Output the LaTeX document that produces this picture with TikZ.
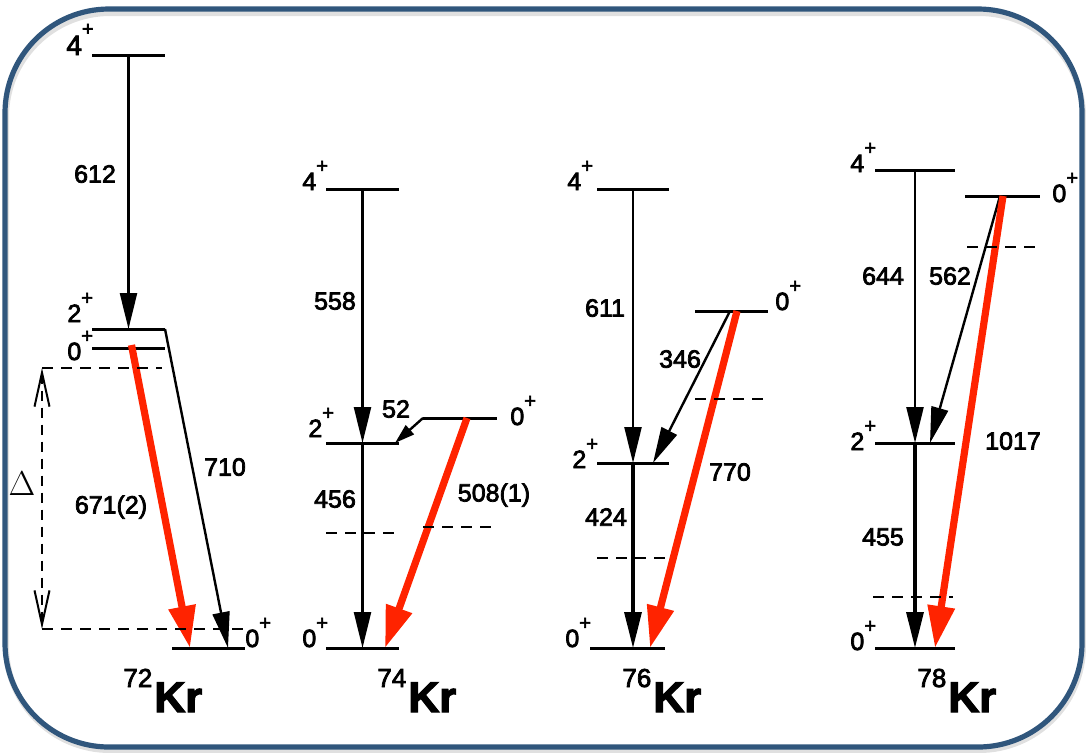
\documentclass[tikz,border=0pt]{standalone}
\usepackage{fontspec}
\setmainfont{Liberation Sans}
\newfontfamily\labfont{Liberation Sans}[FakeBold=3]
\usetikzlibrary{arrows.meta, calc}

\definecolor{frameblue}{RGB}{48,86,124}
\definecolor{krred}{RGB}{255,35,0}

\newcommand{\spin}[1]{#1\raisebox{0.7em}{\fontsize{10}{10}\selectfont +}}
\newcommand{\nuc}[1]{{\fontsize{13}{14}\selectfont\raisebox{12.5pt}{#1}}\kern1pt{\fontsize{21.5}{24}\selectfont\bfseries Kr}}

\begin{document}
\begin{tikzpicture}[
    x=0.5pt, y=-0.5pt,
    font=\labfont\fontsize{12.5}{14}\selectfont,
    frame/.style={draw=frameblue, line width=2.6pt, rounded corners=52pt},
    level/.style={line width=1.5pt},
    gam/.style={line width=1.2pt, -{Triangle[length=18pt, width=8.5pt]}},
    gamthick/.style={gam, line width=1.6pt},
    gamsmall/.style={line width=1.2pt, -{Triangle[length=10pt, width=6pt]}},
    gamred/.style={draw=krred, fill=krred, line width=3.6pt, -{Triangle[length=21pt, width=13pt]}},
    cut/.style={line width=1.3pt, dash pattern=on 5.5pt off 4pt},
    spinlab/.style={anchor=base west, inner sep=0pt},
    elab/.style={inner sep=0pt},
    nuclab/.style={anchor=base west, inner sep=0pt}
]
\useasboundingbox (0,0) rectangle (1086,752);

% FRAME
\draw[line width=3pt, black!12, rounded corners=52pt] (6,13) rectangle (1083,750);
\draw[frame] (5,9) rectangle (1082,747);

% ---------------- 72Kr ----------------
\draw[level] (92,55) -- (165,55) coordinate[pos=0.5] (k72-4);
\draw[level] (92,329) -- (165,329) coordinate[pos=0.5] (k72-2);
\draw[level] (92,348) -- (165,348) coordinate[pos=0.5] (k72-0x);
\draw[level] (172,648) -- (245,648) coordinate[pos=0.5] (k72-0);

\node[spinlab, font=\labfont\fontsize{14}{15}\selectfont] (s72-4) at (66,55) {\spin{4}};
\node[spinlab] (s72-2) at (67,322) {\spin{2}};
\node[spinlab] (s72-0x) at (67,360) {\spin{0}};
\node[spinlab] (s72-0) at (245,647) {\spin{0}};

\draw[gam] (k72-4) -- (k72-2);
\draw[gam] ($(k72-2)+(36.5,0)$) -- ($(k72-0)+(19.5,0)$);
\draw[gamred] ($(k72-0x)+(3,-3)$) -- ($(k72-0)+(-18.5,0)$);

\node[elab] (e612) at (95,174) {612};
\node[elab] (e710) at (225,467) {710};
\node[elab] (e671) at (111,507) {671(2)};

% gap Delta
\coordinate (dtop) at (42,368);
\coordinate (dbot) at (42,629);
\draw[cut] (dtop) -- (162,368);
\draw[cut] (dbot) -- (245,629);
\draw[line width=1pt, dash pattern=on 5pt off 3.5pt, {Straight Barb[length=17pt, width=7.5pt]}-{Straight Barb[length=17pt, width=7.5pt]}] (dtop) -- (dbot);
\node[elab, font=\fontsize{16}{16}\selectfont] (delta) at (22,484) {$\Delta$};

\node[nuclab] (n72) at (123,712) {\nuc{72}};

% ---------------- 74Kr ----------------
\draw[level] (326,189) -- (399,189) coordinate[pos=0.5] (k74-4);
\draw[level] (326,443) -- (399,443) coordinate[pos=0.5] (k74-2);
\draw[level] (423,418) -- (497,418) coordinate[pos=0.5] (k74-0x);
\draw[level] (326,648) -- (399,648) coordinate[pos=0.5] (k74-0);

\node[spinlab] (s74-4) at (302,190) {\spin{4}};
\node[spinlab] (s74-2) at (308,437) {\spin{2}};
\node[spinlab] (s74-0x) at (510,425) {\spin{0}};
\node[spinlab] (s74-0) at (302,647) {\spin{0}};

\draw[gam] (k74-4) -- (k74-2);
\draw[gam] (k74-2) -- (k74-0);
\draw[gamsmall] ($(k74-0x)+(-37,0)$) -- ($(k74-2)+(32.5,0)$);
\draw[gamred] ($(k74-0x)+(7,0)$) -- ($(k74-0)+(22.5,0)$);

\draw[cut] (326,533) -- (395,533);
\draw[cut] (423,527) -- (493,527);

\node[elab] (e558) at (335,301) {558};
\node[elab] (e52) at (396,409) {52};
\node[elab] (e456) at (335,499) {456};
\node[elab] (e508) at (494,495) {508(1)};

\node[nuclab] (n74) at (377,712) {\nuc{74}};

% ---------------- 76Kr ----------------
\draw[level] (597,189) -- (669,189) coordinate[pos=0.5] (k76-4);
\draw[level] (597,463) -- (669,463) coordinate[pos=0.5] (k76-2);
\draw[level] (695,311) -- (768,311) coordinate[pos=0.5] (k76-0x);
\draw[level] (590,648) -- (665,648) coordinate[pos=0.5] (k76-0);

\node[spinlab] (s76-4) at (567,190) {\spin{4}};
\node[spinlab] (s76-2) at (572,468) {\spin{2}};
\node[spinlab] (s76-0x) at (775,310) {\spin{0}};
\node[spinlab] (s76-0) at (565,647) {\spin{0}};

\draw[gam] (k76-4) -- (k76-2);
\draw[gamthick] (k76-2) -- (k76-2 |- k76-0);
\draw[gam] ($(k76-0x)+(-1.5,0)$) -- ($(k76-2)+(20,0)$);
\draw[gamred] ($(k76-0x)+(5.5,0)$) -- ($(k76-2 |- k76-0)+(17,0)$);

\draw[cut] (695,399) -- (763,399);
\draw[cut] (597,558) -- (665,558);

\node[elab] (e611) at (605,308) {611};
\node[elab] (e346) at (680,359) {346};
\node[elab] (e770) at (730,472) {770};
\node[elab] (e424) at (606,517) {424};

\node[nuclab] (n76) at (622,712) {\nuc{76}};

% ---------------- 78Kr ----------------
\draw[level] (875,170) -- (955,170) coordinate[pos=0.5] (k78-4);
\draw[level] (875,443) -- (955,443) coordinate[pos=0.5] (k78-2);
\draw[level] (965,196) -- (1040,196) coordinate[pos=0.5] (k78-0x);
\draw[level] (875,648) -- (955,648) coordinate[pos=0.5] (k78-0);

\node[spinlab] (s78-4) at (850,172) {\spin{4}};
\node[spinlab] (s78-2) at (850,450) {\spin{2}};
\node[spinlab] (s78-0x) at (1052,202) {\spin{0}};
\node[spinlab] (s78-0) at (850,650) {\spin{0}};

\draw[gam] (k78-4) -- (k78-2);
\draw[gamthick] (k78-2) -- (k78-0);
\draw[gam] ($(k78-0x)+(-2.5,0)$) -- ($(k78-2)+(15,0)$);
\draw[gamred] ($(k78-0x)+(0.5,0)$) -- ($(k78-0)+(20,0)$);

\draw[cut] (967,247) -- (1035,247);
\draw[cut] (873,597) -- (953,597);

\node[elab] (e644) at (883,276) {644};
\node[elab] (e562) at (950,276) {562};
\node[elab] (e1017) at (1013,441) {1017};
\node[elab] (e455) at (883,537) {455};

\node[nuclab] (n78) at (917,712) {\nuc{78}};

\end{tikzpicture}
\end{document}
